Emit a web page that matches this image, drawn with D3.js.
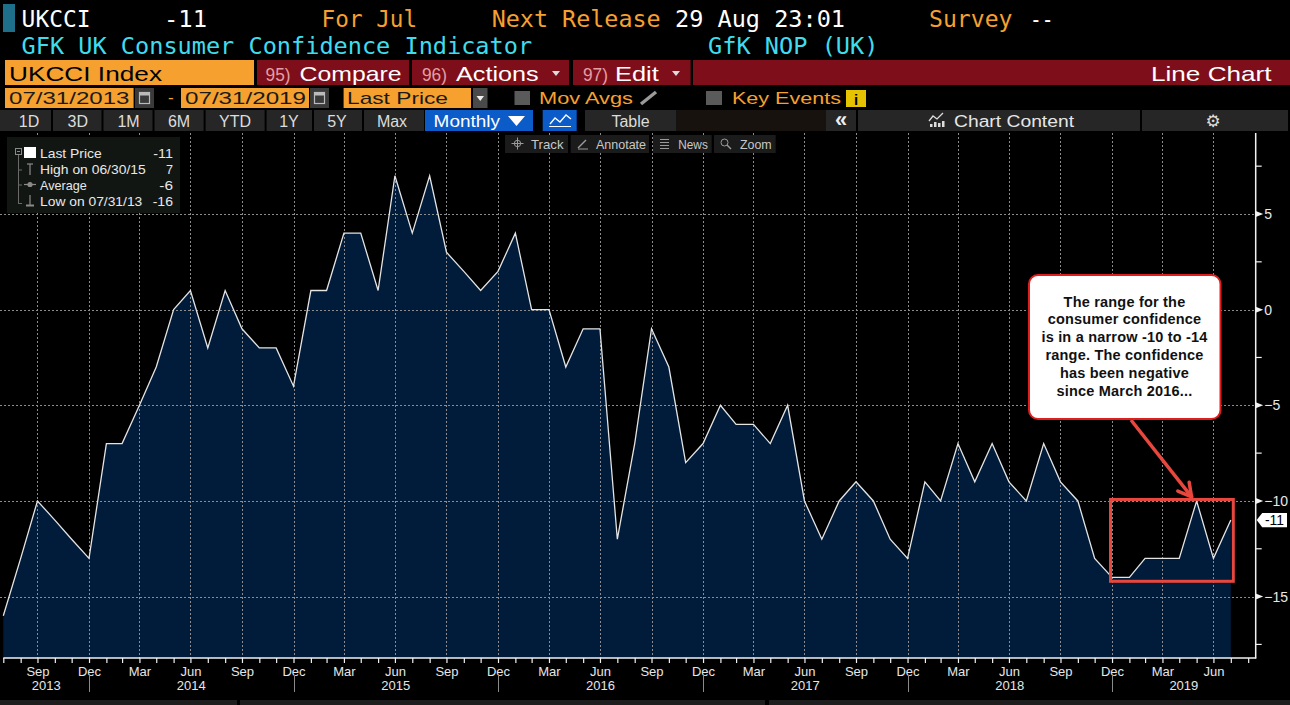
<!DOCTYPE html>
<html><head><meta charset="utf-8">
<script src="https://cdn.jsdelivr.net/npm/d3@7"></script>
<style>html,body{margin:0;padding:0;background:#000;overflow:hidden}</style>
</head><body>
<svg id="c" width="1290" height="705"></svg>
<script>
// ---------------- DATA ----------------
const firstMonthEnd = "2013-07-31";
const values = [
  -16, -13, -10, -11, -12, -13,                       // 2013 Jul-Dec
  -7, -7, -5, -3, 0, 1, -2, 1, -1, -2, -2, -4,        // 2014
  1, 1, 4, 4, 1, 7, 4, 7, 3, 2, 1, 2,                 // 2015
  4, 0, 0, -3, -1, -1, -12, -7, -1, -3, -8, -7,       // 2016
  -5, -6, -6, -7, -5, -10, -12, -10, -9, -10, -12, -13, // 2017
  -9, -10, -7, -9, -7, -9, -10, -7, -9, -10, -13, -14,  // 2018
  -14, -13, -13, -13, -10, -13, -11                   // 2019 Jan-Jul
];
const yMajorTicks = [-15, -10, -5, 0, 5];
const yMinorTicks = [-17.5, -12.5, -7.5, -2.5, 2.5, 7.5];
const monthNames = ["Jan","Feb","Mar","Apr","May","Jun","Jul","Aug","Sep","Oct","Nov","Dec"];
const labelledMonths = ["Mar","Jun","Sep","Dec"];
const years = [2013, 2014, 2015, 2016, 2017, 2018, 2019];
const lastValue = "-11";
const legendLabels = ["Last Price", "High on 06/30/15", "Average", "Low on 07/31/13"];
const legendValues = ["-11", "7", "-6", "-16"];
const noteLines = ["The range for the", "consumer confidence", "is in a narrow -10 to -14",
                   "range. The confidence", "has been negative", "since March 2016..."];
const periodButtons = ["1D","3D","1M","6M","YTD","1Y","5Y","Max"];

// ---------------- SETUP ----------------
const svg = d3.select("#c");
svg.append("rect").attr("width",1290).attr("height",705).attr("fill","#000");
const MONO = "DejaVu Sans Mono, Liberation Mono, monospace";
const SANS = "Liberation Sans, Arial, sans-serif";
const ORANGE = "#f6a12f", CYAN = "#3fdcee", RED = "#7f0e1b", GRAYBTN = "#262626";

function T(g, s, x, y, o = {}) {
  const t = g.append("text").attr("x", x).attr("y", y).text(s)
    .attr("font-family", o.ff || SANS).attr("font-size", o.fs || 13)
    .attr("fill", o.fill || "#fff");
  if (o.fw) t.attr("font-weight", o.fw);
  if (o.anchor) t.attr("text-anchor", o.anchor);
  if (o.w) t.attr("textLength", o.w).attr("lengthAdjust", "spacingAndGlyphs");
  if (o.ls) t.attr("letter-spacing", o.ls);
  return t;
}
function R(g, x, y, w, h, fill) {
  return g.append("rect").attr("x", x).attr("y", y).attr("width", w).attr("height", h).attr("fill", fill);
}

// ---------------- HEADER ----------------
const hd = svg.append("g");
R(hd, 3, 4, 12, 28, "#1d6f8a");
T(hd, "UKCCI", 21.6, 26.5, {ff: MONO, fs: 23, w: 69});
T(hd, "-11", 164, 26.5, {ff: MONO, fs: 23, w: 43});
T(hd, "For Jul", 321.6, 26.5, {ff: MONO, fs: 23, fill: ORANGE, w: 95.5});
T(hd, "Next Release", 491.7, 26.5, {ff: MONO, fs: 23, fill: ORANGE, w: 169});
T(hd, "29 Aug 23:01", 675, 26.5, {ff: MONO, fs: 23, w: 170});
T(hd, "Survey", 929, 26.5, {ff: MONO, fs: 23, fill: ORANGE, w: 83.5});
T(hd, "--", 1030, 26.5, {ff: MONO, fs: 23, w: 23.5});
T(hd, "GFK UK Consumer Confidence Indicator", 21.6, 53.5, {ff: MONO, fs: 23, fill: CYAN, w: 510.5});
T(hd, "GfK NOP (UK)", 708, 53.5, {ff: MONO, fs: 23, fill: CYAN, w: 170.5});

// row 3
R(hd, 5, 60, 249, 25, ORANGE);
T(hd, "UKCCI Index", 9, 81, {fs: 21, fill: "#000", w: 153});
R(hd, 257, 60, 152, 25, RED);
T(hd, "95)", 265.6, 80.5, {fs: 18, fill: "#e2a0a4", w: 25});
T(hd, "Compare", 299.6, 81, {fs: 21, w: 102});
R(hd, 412, 60, 157, 25, RED);
T(hd, "96)", 422, 80.5, {fs: 18, fill: "#e2a0a4", w: 25});
T(hd, "Actions", 456, 81, {fs: 21, w: 82.6});
hd.append("path").attr("d", "M552,71L560,71L556,76Z").attr("fill", "#ddd");
R(hd, 573, 60, 117.6, 25, RED);
T(hd, "97)", 583, 80.5, {fs: 18, fill: "#e2a0a4", w: 25});
T(hd, "Edit", 615, 81, {fs: 21, w: 43.7});
hd.append("path").attr("d", "M672,71L680,71L676,76Z").attr("fill", "#ddd");
R(hd, 693, 60, 597, 25, RED);
T(hd, "Line Chart", 1151, 81, {fs: 21, w: 120.5});

// row 4
R(hd, 5, 88, 128.6, 20, ORANGE);
T(hd, "07/31/2013", 9, 104, {fs: 17, fill: "#1a1a1a", w: 120.5});
function cal(x) {
  R(hd, x, 88, 19, 20, "#3a3a3a");
  hd.append("rect").attr("x", x + 4.5).attr("y", 92.5).attr("width", 10).attr("height", 11)
    .attr("fill", "none").attr("stroke", "#bbb").attr("stroke-width", 1.2);
  R(hd, x + 4.5, 92.5, 10, 3, "#bbb");
}
cal(135);
T(hd, "-", 168, 103, {fs: 17, fill: ORANGE});
R(hd, 181, 88, 128, 20, ORANGE);
T(hd, "07/31/2019", 185, 104, {fs: 17, fill: "#1a1a1a", w: 121});
cal(310);
R(hd, 343.6, 88, 127.4, 20, ORANGE);
T(hd, "Last Price", 347, 104, {fs: 17, fill: "#1a1a1a", w: 101});
R(hd, 473, 88, 14.5, 20, "#4a4a4a");
hd.append("path").attr("d", "M476.5,96L484,96L480.25,101Z").attr("fill", "#eee");
R(hd, 514.5, 91, 15.5, 14, "#5a5a5a");
T(hd, "Mov Avgs", 539, 104, {fs: 17, fill: ORANGE, w: 94});
hd.append("line").attr("x1", 641).attr("y1", 104).attr("x2", 656).attr("y2", 92)
  .attr("stroke", "#9a9a9a").attr("stroke-width", 3.5);
R(hd, 706, 91, 16, 14, "#5a5a5a");
T(hd, "Key Events", 732, 104, {fs: 17, fill: ORANGE, w: 109});
R(hd, 846, 90, 20, 17, "#e6c300");
T(hd, "i", 856, 104.5, {fs: 15, fill: "#000", fw: "bold", anchor: "middle"});

// row 5
R(hd, 0, 110, 424, 21, GRAYBTN);
[52, 102.5, 153.5, 204.6, 265.6, 313, 363].forEach(s =>
  hd.append("line").attr("x1", s).attr("x2", s).attr("y1", 110).attr("y2", 131).attr("stroke", "#000").attr("stroke-width", 2));
const btnCenters = [29, 77.8, 128.6, 179, 235, 289, 337, 392];
periodButtons.forEach((b, i) => T(hd, b, btnCenters[i], 126.5, {fs: 16, fill: "#dcdcdc", anchor: "middle"}));
R(hd, 425, 110, 108, 21, "#0b5bc9");
T(hd, "Monthly", 433.6, 126.5, {fs: 16, w: 66.4});
hd.append("path").attr("d", "M508,116L525,116L516.5,126Z").attr("fill", "#fff");
R(hd, 542.7, 110, 34, 21, "#0b5bc9");
hd.append("polyline").attr("points", "550,124 555,118 560,122 566,115 571,119")
  .attr("fill", "none").attr("stroke", "#fff").attr("stroke-width", 1.3);
hd.append("line").attr("x1", 549).attr("x2", 571).attr("y1", 126.5).attr("y2", 126.5).attr("stroke", "#fff");
R(hd, 585, 110, 91.5, 21, GRAYBTN);
T(hd, "Table", 630.5, 126.5, {fs: 16, fill: "#dcdcdc", anchor: "middle"});
R(hd, 676.5, 110, 149.5, 21, "#17120e");
R(hd, 826, 110, 30, 21, GRAYBTN);
T(hd, "«", 841, 127, {fs: 22, fill: "#eee", fw: "bold", anchor: "middle"});
R(hd, 858, 110, 282, 21, GRAYBTN);
hd.append("polyline").attr("points", "929,121 933,116 937,119 943,113")
  .attr("fill", "none").attr("stroke", "#ddd").attr("stroke-width", 1.3);
[[930, 3], [934, 5], [938, 4], [942, 6]].forEach(([bx, bh]) => R(hd, bx, 127 - bh, 2.5, bh, "#ddd"));
T(hd, "Chart Content", 954, 126.5, {fs: 16, fill: "#e6e6e6", w: 120});
R(hd, 1142, 110, 146, 21, GRAYBTN);
T(hd, "\u2699", 1213, 127, {ff: "DejaVu Sans", fs: 17, fill: "#ddd", anchor: "middle"});

// ---------------- SCALES ----------------
const parse = d3.utcParse("%Y-%m-%d");
const d0 = parse(firstMonthEnd);
const monthEnd = i => d3.utcDay.offset(d3.utcMonth.offset(d3.utcDay.offset(d0, 1), i), -1);
const data = values.map((v, i) => ({date: monthEnd(i), v}));
const plotTop = 133, plotBottom = 658, axisX = 1255.7;
const x = d3.scaleUtc().domain([data[0].date, data[data.length - 1].date]).range([3.3, 1230.8]);
const y = d3.scaleLinear().domain([-15, 5]).range([596.6, 214]);

const tickDates = d3.range(values.length + 1).map(monthEnd);
const quarterDates = tickDates.filter(d => labelledMonths.includes(monthNames[d.getUTCMonth()]));

// ---------------- PLOT ----------------
const plot = svg.append("g");
plot.append("path").datum(data)
  .attr("d", d3.area().x(d => x(d.date)).y0(plotBottom).y1(d => y(d.v)))
  .attr("fill", "#011c3b");

const grid = plot.append("g").attr("stroke", "#8c8c8c").attr("stroke-width", 1).attr("stroke-dasharray", "2,2");
yMajorTicks.forEach(t => grid.append("line").attr("x1", 0).attr("x2", axisX).attr("y1", Math.round(y(t)) + 0.5).attr("y2", Math.round(y(t)) + 0.5));
quarterDates.forEach(d => grid.append("line").attr("x1", Math.round(x(d)) + 0.5).attr("x2", Math.round(x(d)) + 0.5).attr("y1", plotTop).attr("y2", plotBottom));

plot.append("path").datum(data)
  .attr("d", d3.line().x(d => x(d.date)).y(d => y(d.v)))
  .attr("fill", "none").attr("stroke", "#e4e4e4").attr("stroke-width", 1.3);

// ---------------- AXES ----------------
const xa = svg.append("g").attr("transform", `translate(0,${plotBottom})`)
  .call(d3.axisBottom(x).tickValues(tickDates).tickSize(5).tickSizeOuter(0).tickPadding(3)
    .tickFormat(d => { const m = monthNames[d.getUTCMonth()]; return labelledMonths.includes(m) ? m : ""; }));
xa.select(".domain").remove();
xa.selectAll(".tick line").attr("stroke", "#f0f0f0").attr("stroke-width", 1.2);
xa.selectAll(".tick text").attr("font-family", SANS).attr("font-size", 13).attr("fill", "#e6e6e6").attr("dy", "0.74em");
svg.append("line").attr("x1", 3.3).attr("x2", axisX + 0.5).attr("y1", plotBottom).attr("y2", plotBottom)
  .attr("stroke", "#f2f2f2").attr("stroke-width", 1.5);

// year labels and separators
const decDates = tickDates.filter(d => d.getUTCMonth() === 11);
decDates.forEach(d => svg.append("line").attr("x1", Math.round(x(d)) + 0.5).attr("x2", Math.round(x(d)) + 0.5)
  .attr("y1", 675).attr("y2", 692).attr("stroke", "#8a8a8a"));
years.forEach(yr => {
  const prev = decDates.find(d => d.getUTCFullYear() === yr - 1);
  const cur = decDates.find(d => d.getUTCFullYear() === yr);
  const a = prev ? x(prev) : x(data[0].date);
  const b = cur ? x(cur) : axisX;
  T(svg, String(yr), (a + b) / 2, 689.5, {fs: 13, fill: "#e6e6e6", anchor: "middle"});
});

// right axis
svg.append("line").attr("x1", axisX).attr("x2", axisX).attr("y1", plotTop).attr("y2", plotBottom + 0.5)
  .attr("stroke", "#f2f2f2").attr("stroke-width", 1.5);
const ya = svg.append("g").attr("transform", `translate(${axisX},0)`)
  .call(d3.axisRight(y).tickValues(yMajorTicks).tickSize(0).tickPadding(8.5).tickFormat(d3.format("d")));
ya.select(".domain").remove();
ya.selectAll(".tick text").attr("font-family", SANS).attr("font-size", 14).attr("fill", "#e8e8e8");
yMajorTicks.forEach(t => svg.append("path")
  .attr("d", `M${axisX},${y(t) - 3}L${axisX + 7.5},${y(t)}L${axisX},${y(t) + 3}Z`).attr("fill", "#f2f2f2"));
yMinorTicks.forEach(t => svg.append("line").attr("x1", axisX).attr("x2", axisX + 6)
  .attr("y1", y(t)).attr("y2", y(t)).attr("stroke", "#f2f2f2").attr("stroke-width", 1.2));

// last value tag
const ly = y(values[values.length - 1]);
svg.append("path").attr("d", `M${axisX + 1},${ly}L${axisX + 6.5},${ly - 7.2}L1287,${ly - 7.2}L1287,${ly + 7.2}L${axisX + 6.5},${ly + 7.2}Z`).attr("fill", "#fff");
T(svg, lastValue, 1265, ly + 5, {fs: 14, fill: "#000", w: 19});

// ---------------- LEGEND ----------------
const lg = svg.append("g");
R(lg, 7, 137, 173, 76, "#121612");
lg.append("rect").attr("x", 15.5).attr("y", 148.5).attr("width", 6).attr("height", 6)
  .attr("fill", "none").attr("stroke", "#8a8a8a");
lg.append("line").attr("x1", 17).attr("x2", 20).attr("y1", 151.5).attr("y2", 151.5).attr("stroke", "#8a8a8a");
lg.append("line").attr("x1", 18.5).attr("x2", 18.5).attr("y1", 155).attr("y2", 204).attr("stroke", "#6a6a6a");
[170, 185, 203.5].forEach(yy => lg.append("line").attr("x1", 18.5).attr("x2", 22).attr("y1", yy).attr("y2", yy).attr("stroke", "#6a6a6a"));
R(lg, 24, 147, 12, 11, "#fff");
const ic = lg.append("g").attr("stroke", "#8a8a8a").attr("stroke-width", 1.2).attr("fill", "none");
ic.append("line").attr("x1", 30).attr("x2", 30).attr("y1", 164).attr("y2", 175);
ic.append("line").attr("x1", 27).attr("x2", 33).attr("y1", 164).attr("y2", 164);
ic.append("line").attr("x1", 24).attr("x2", 36).attr("y1", 184.5).attr("y2", 184.5);
ic.append("circle").attr("cx", 30).attr("cy", 184.5).attr("r", 2).attr("fill", "#8a8a8a");
ic.append("line").attr("x1", 30).attr("x2", 30).attr("y1", 195).attr("y2", 205);
ic.append("line").attr("x1", 26).attr("x2", 34).attr("y1", 205.5).attr("y2", 205.5).attr("stroke-width", 2);
const lgBase = [157.7, 173.8, 189.6, 205.6];
const lgW = [61.7, 105.7, 46.7, 102.3];
const lgVW = [19.7, 7, 13.7, 20.3];
legendLabels.forEach((s, i) => {
  T(lg, s, 40, lgBase[i], {fs: 13, fill: "#e8e8e8", w: lgW[i]});
  T(lg, legendValues[i], 173, lgBase[i], {fs: 13, fill: "#e8e8e8", anchor: "end", w: lgVW[i]});
});

// ---------------- CHART TOOLBAR ----------------
const tb = svg.append("g");
[[505, 63], [570.7, 78.3], [653, 58.7], [714, 61.7]].forEach(([bx, bw]) => R(tb, bx, 135, bw, 18, "#1b1b1b"));
[["Track", 531, 32.5], ["Annotate", 596, 50], ["News", 678.3, 29.5], ["Zoom", 740, 31.7]]
  .forEach(([s, tx, tw]) => T(tb, s, tx, 148.5, {fs: 13, fill: "#c8c8c8", w: tw}));
const ti = tb.append("g").attr("stroke", "#9a9a9a").attr("stroke-width", 1).attr("fill", "none");
ti.append("circle").attr("cx", 517.5).attr("cy", 143.5).attr("r", 3.2);
ti.append("line").attr("x1", 511.5).attr("x2", 523.5).attr("y1", 143.5).attr("y2", 143.5);
ti.append("line").attr("x1", 517.5).attr("x2", 517.5).attr("y1", 137.5).attr("y2", 149.5);
ti.append("line").attr("x1", 578).attr("x2", 586).attr("y1", 148).attr("y2", 140).attr("stroke-width", 1.5);
ti.append("line").attr("x1", 578).attr("x2", 588).attr("y1", 149).attr("y2", 149);
[139.5, 142.5, 145.5, 148.5].forEach(yy => ti.append("line").attr("x1", 660).attr("x2", 669).attr("y1", yy).attr("y2", yy));
ti.append("circle").attr("cx", 724.5).attr("cy", 142.5).attr("r", 3.5);
ti.append("line").attr("x1", 727).attr("x2", 731).attr("y1", 145).attr("y2", 149).attr("stroke-width", 1.5);

// ---------------- ANNOTATION ----------------
const an = svg.append("g");
const peakIdx = 70, boxStart = 65, boxEnd = 72;
const bx0 = x(data[boxStart].date) - 1.5, bx1 = x(data[boxEnd].date) + 2.5;
const by0 = y(-10) - 1.5, by1 = y(-14.2);
an.append("rect").attr("x", bx0).attr("y", by0).attr("width", bx1 - bx0).attr("height", by1 - by0)
  .attr("fill", "none").attr("stroke", "#e8473e").attr("stroke-width", 3);
const tip = [x(data[peakIdx].date) - 5, y(-10) - 4];
const tail = [1131, 420];
an.append("line").attr("x1", tail[0]).attr("y1", tail[1]).attr("x2", tip[0]).attr("y2", tip[1])
  .attr("stroke", "#e8473e").attr("stroke-width", 3.5);
const ang = Math.atan2(tip[1] - tail[1], tip[0] - tail[0]);
[0.5, -0.5].forEach(da => an.append("line").attr("x1", tip[0]).attr("y1", tip[1])
  .attr("x2", tip[0] - 15 * Math.cos(ang + da)).attr("y2", tip[1] - 15 * Math.sin(ang + da))
  .attr("stroke", "#e8473e").attr("stroke-width", 3.5).attr("stroke-linecap", "round"));
an.append("rect").attr("x", 1029).attr("y", 275).attr("width", 191.5).attr("height", 144).attr("rx", 9)
  .attr("fill", "#fff").attr("stroke", "#e01e1e").attr("stroke-width", 2);
noteLines.forEach((s, i) => T(an, s, 1124.5, 306.5 + i * 17.9, {fs: 14.5, fw: "bold", fill: "#111", anchor: "middle", ls: 0.2}));

// ---------------- BOTTOM BAR ----------------
R(svg, 0, 700, 237, 5, "#1e1e1e");
R(svg, 240, 700, 525, 5, "#1e1e1e");
R(svg, 769, 700, 521, 5, "#1e1e1e");
</script>
</body></html>
